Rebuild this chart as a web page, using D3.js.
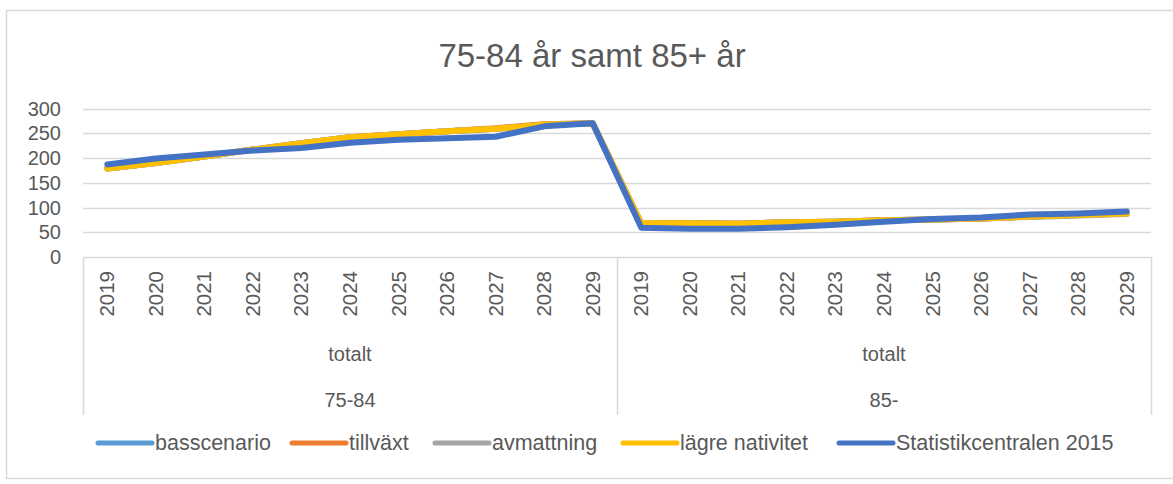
<!DOCTYPE html>
<html lang="sv">
<head>
<meta charset="UTF-8">
<title>75-84 år samt 85+ år</title>
<script src="https://d3js.org/d3.v7.min.js"></script>
<style>
  body { margin: 0; background: #fff; }
  text { font-family: "Liberation Sans", Arial, sans-serif; fill: #595959; }
</style>
</head>
<body>
<div id="chart"></div>
<script>
// data
var years = ["2019","2020","2021","2022","2023","2024","2025","2026","2027","2028","2029"];
var groups = ["75-84", "85-"];
var subLabel = "totalt";
var yTicks = [0, 50, 100, 150, 200, 250, 300];

var seriesNames = ["basscenario", "tillväxt", "avmattning", "lägre nativitet", "Statistikcentralen 2015"];
var seriesColors = ["#5B9BD5", "#ED7D31", "#A5A5A5", "#FFC000", "#4472C4"];

var basscenario = [179, 190, 203, 217, 230, 242, 248, 254, 259, 267, 270,
                   67, 68, 67, 70, 71, 74, 76, 78, 82, 85, 88];
var tillvaxt    = [179, 190, 203, 217, 230, 242, 248, 254, 260, 268, 270,
                   67, 68, 67, 70, 71, 74, 76, 78, 82, 85, 88];
var avmattning  = [179, 190, 203, 217, 230, 242, 248, 254, 259, 267, 270,
                   67, 68, 67, 70, 71, 74, 76, 78, 81, 84, 87];
var lagreNat    = [179, 190, 203, 217, 230, 242, 248, 254, 259, 267, 270,
                   68, 68, 67, 70, 71, 74, 76, 78, 82, 85, 88];
var statistik   = [187, 199, 207, 215, 220, 231, 237, 240, 243, 264, 270,
                   59, 57, 57, 60, 65, 71, 77, 80, 86, 88, 92];

var seriesValues = [basscenario, tillvaxt, avmattning, lagreNat, statistik];

var W = 1173, H = 484;
var plotLeft = 83, plotRight = 1151, plotTop = 108.5, plotBottom = 257;

var svg = d3.select("#chart").append("svg")
    .attr("width", W).attr("height", H);

// outer frame
svg.append("rect")
    .attr("x", 6.5).attr("y", 10.5)
    .attr("width", 1180).attr("height", 468)
    .attr("fill", "none").attr("stroke", "#d9d9d9").attr("stroke-width", 1.5);

// title
svg.append("text")
    .attr("x", 592).attr("y", 67)
    .attr("text-anchor", "middle")
    .style("font-size", "33px")
    .text("75-84 år samt 85+ år");

// categories: each year within each group
var cats = [];
groups.forEach(function(g) {
    years.forEach(function(yr) { cats.push(g + "|" + yr); });
});

var x = d3.scaleBand().domain(cats).range([plotLeft, plotRight]);
var y = d3.scaleLinear().domain([0, 300]).range([plotBottom, plotTop]);

// gridlines
svg.append("g").selectAll("line")
    .data(yTicks)
    .enter().append("line")
    .attr("x1", plotLeft).attr("x2", plotRight)
    .attr("y1", function(d) { return Math.round(y(d)) + 0.5; })
    .attr("y2", function(d) { return Math.round(y(d)) + 0.5; })
    .attr("stroke", "#d9d9d9").attr("stroke-width", 1.5);

// y tick labels
svg.append("g").selectAll("text")
    .data(yTicks)
    .enter().append("text")
    .attr("x", 61)
    .attr("y", function(d) { return y(d) + 7; })
    .attr("text-anchor", "end")
    .style("font-size", "20px")
    .text(function(d) { return d; });

// category box lines
var groupEdges = [plotLeft, x(groups[1] + "|" + years[0]), plotRight];
svg.append("g").selectAll("line")
    .data(groupEdges)
    .enter().append("line")
    .attr("x1", function(d) { return Math.round(d) + 0.5; })
    .attr("x2", function(d) { return Math.round(d) + 0.5; })
    .attr("y1", plotBottom).attr("y2", 415)
    .attr("stroke", "#d9d9d9").attr("stroke-width", 1.5);

// year labels (rotated)
svg.append("g").selectAll("text")
    .data(cats)
    .enter().append("text")
    .attr("transform", function(d) {
        return "translate(" + (x(d) + x.bandwidth() / 2 + 7) + ",271) rotate(-90)";
    })
    .attr("text-anchor", "end")
    .style("font-size", "20.5px")
    .text(function(d) { return d.split("|")[1]; });

// group labels
groups.forEach(function(g, i) {
    var cx = (groupEdges[i] + groupEdges[i + 1]) / 2;
    svg.append("text")
        .attr("x", cx).attr("y", 361)
        .attr("text-anchor", "middle")
        .style("font-size", "20px")
        .text(subLabel);
    svg.append("text")
        .attr("x", cx).attr("y", 407)
        .attr("text-anchor", "middle")
        .style("font-size", "20px")
        .text(g);
});

// lines
var line = d3.line()
    .x(function(d, i) { return x(cats[i]) + x.bandwidth() / 2; })
    .y(function(d) { return y(d); });

svg.append("g").selectAll("path")
    .data(seriesValues)
    .enter().append("path")
    .attr("d", line)
    .attr("fill", "none")
    .attr("stroke", function(d, i) { return seriesColors[i]; })
    .attr("stroke-width", 6)
    .attr("stroke-linecap", "round")
    .attr("stroke-linejoin", "round");

// legend
var legendX = [98, 292, 435, 623, 839];
var legend = svg.append("g").selectAll("g")
    .data(seriesNames)
    .enter().append("g")
    .attr("transform", function(d, i) { return "translate(" + legendX[i] + ",443)"; });

legend.append("line")
    .attr("x1", 0).attr("x2", 54)
    .attr("y1", 0).attr("y2", 0)
    .attr("stroke", function(d, i) { return seriesColors[i]; })
    .attr("stroke-width", 5)
    .attr("stroke-linecap", "round");

legend.append("text")
    .attr("x", 57).attr("y", 7)
    .style("font-size", "21.5px")
    .text(function(d) { return d; });
</script>
</body>
</html>
